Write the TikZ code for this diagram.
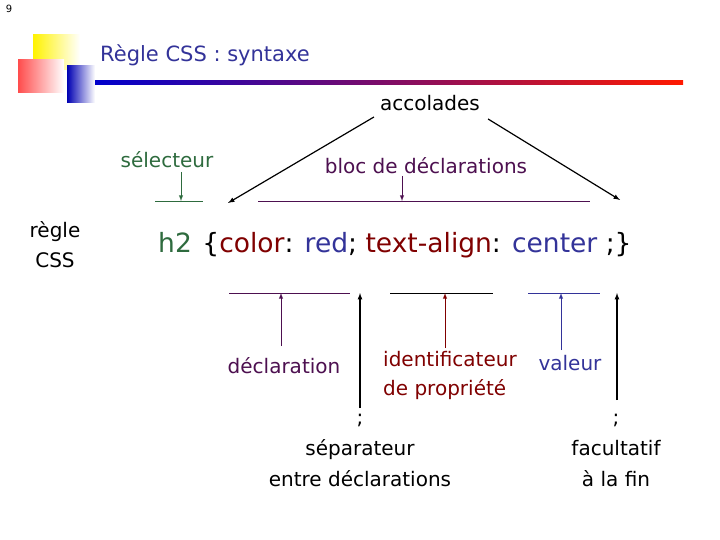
\documentclass[tikz,border=0pt]{standalone}
\usepackage{fontspec}
\setmainfont{DejaVu Sans}
\begin{document}
\begin{tikzpicture}[x=1pt,y=-1pt,
  lbl/.style={inner sep=0pt,font=\fontsize{20}{24}\selectfont},
  arr/.style={-latex,line width=1.2pt},
  thin/.style={line width=0.8pt}]
\definecolor{cgreen}{HTML}{2E6B3E}
\definecolor{cpurple}{HTML}{4D1050}
\definecolor{cred}{HTML}{800000}
\definecolor{cblue}{HTML}{333399}
\useasboundingbox[fill=white] (0,0) rectangle (720,540);
\node[font=\fontsize{10}{12}\selectfont,inner sep=0pt] (pg) at (9,9) {9};
% decoration
\fill[left color=yellow!90!orange,right color=white] (33,35) rectangle (80,70);
\fill[left color=red!70,right color=white] (18,60) rectangle (64,93);
\fill[left color=blue!70!black,right color=white] (67,66) rectangle (95,103);
\shade[left color=blue!80!black,right color=red!80!orange] (95,81) rectangle (683,85);
\node[anchor=west,inner sep=0pt,text=cblue,font=\fontsize{21}{25}\selectfont] (title) at (100,55) {Règle CSS : syntaxe};
% top
\node[lbl] (acc) at (430,103) {accolades};
\coordinate (al) at (228,203);
\coordinate (ar) at (620,200);
\draw[arr] (acc.west)++(-6,14) coordinate (a1) (a1) -- (al);
\draw[arr] (acc.east)++(8,16) coordinate (a2) (a2) -- (ar);
\node[lbl,text=cgreen] (sel) at (167,160) {sélecteur};
\coordinate (selL) at (155,201); \coordinate (selR) at (203,201); \coordinate (selT) at (181,201);
\draw[thin,cgreen] (selL) -- (selR);
\draw[arr,cgreen,line width=0.9pt] (181,172) -- (selT);
\node[lbl,text=cpurple] (bloc) at (426,166) {bloc de déclarations};
\coordinate (blL) at (258,201); \coordinate (blR) at (590,201); \coordinate (blT) at (402,201);
\draw[thin,cpurple] (blL) -- (blR);
\draw[arr,cpurple,line width=0.9pt] (402,176) -- (blT);
% rule
\node[lbl,align=center,font=\fontsize{20}{30}\selectfont] (regle) at (55,245) {règle\\CSS};
\node[anchor=west,inner sep=0pt,font=\fontsize{26.5}{30}\selectfont] (code) at (158,245)
 {\textcolor{cgreen}{h2}\hspace{0.4em}\{\textcolor{cred}{color}: \textcolor{cblue}{red}; \textcolor{cred}{text-align}: \textcolor{cblue}{center} ;\}};
% bottom
\draw[thin,cpurple] (229,293) -- (350,293);
\draw[thin] (390,293) -- (493,293);
\draw[thin,cblue] (528,293) -- (600,293);
\node[lbl,text=cpurple] (decl) at (284,366) {déclaration};
\node[lbl,text=cred,anchor=north west,align=left,font=\fontsize{20}{29}\selectfont] (ident) at (383,351) {identificateur\\de propriété};
\node[lbl,text=cblue] (val) at (570,363) {valeur};
\node[lbl,align=center,font=\fontsize{20}{31}\selectfont] (sep) at (360,450) {;\\séparateur\\entre déclarations};
\node[lbl,align=center,font=\fontsize{20}{31}\selectfont] (fac) at (616,450) {;\\facultatif\\à la fin};
\draw[arr,cpurple,line width=0.9pt] (281,346) -- (281,293);
\draw[arr] (360,408) -- (360,293);
\draw[arr,cred,line width=0.9pt] (445,348) -- (445,293);
\draw[arr,cblue,line width=0.9pt] (561,350) -- (561,293);
\draw[arr] (617,400) -- (617,293);
\end{tikzpicture}
\end{document}
